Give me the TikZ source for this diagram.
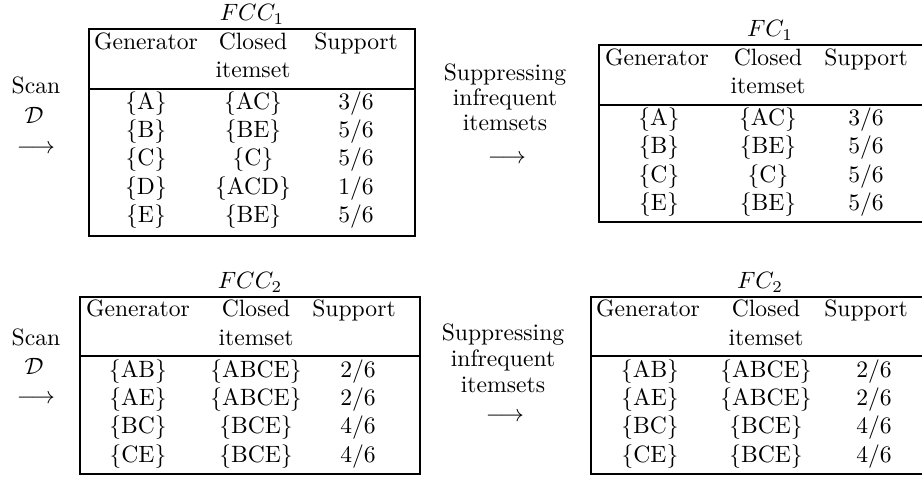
\documentclass[tikz,border=0pt]{standalone}
\usepackage{amsmath}
\begin{document}
\begin{tikzpicture}[x=0.4235pt,y=-0.4235pt,
    txt/.style={inner sep=0pt,text height=7pt,text depth=2pt},
    frame/.style={line width=0.9pt}]
  \useasboundingbox (0,0) rectangle (922,476);
  \clip (0,0) rectangle (922,476);
  % left labels
  \draw
    (36,88) node[txt] (scan1){Scan}
    (34,118) node[txt] (data1){$\mathcal{D}$}
    (36,148) node[txt] (arr1){$\longrightarrow$}
    (36,340) node[txt] (scan2){Scan}
    (34,369) node[txt] (data2){$\mathcal{D}$}
    (36,398) node[txt] (arr2){$\longrightarrow$};
  % middle labels
  \draw
    (505,75) node[txt] (supp1){Suppressing}
    (505,100) node[txt] (infr1){infrequent}
    (505,125) node[txt] (item1){itemsets}
    (507,158) node[txt] (arr3){$\longrightarrow$}
    (503,335) node[txt] (supp2){Suppressing}
    (503,361) node[txt] (infr2){infrequent}
    (503,387) node[txt] (item2){itemsets}
    (505,416) node[txt] (arr4){$\longrightarrow$};
  % FCC_1
  \draw[frame] (89,29) rectangle (415,236);
  \draw[frame] (89,89) -- (415,89);
  \draw
    (252,15) node[txt] (fcc1){$FCC_1$}
    (146,44) node[txt] (fcc1g){Generator}
    (253,44) node[txt] (fcc1c){Closed}
    (253,72) node[txt] (fcc1i){itemset}
    (356,44) node[txt] (fcc1s){Support}
    (146,104) node[txt] (fcc1a1){\{A\}}
    (253,104) node[txt] (fcc1a2){\{AC\}}
    (356,104) node[txt] (fcc1a3){3/6}
    (146,132) node[txt] (fcc1b1){\{B\}}
    (253,132) node[txt] (fcc1b2){\{BE\}}
    (356,132) node[txt] (fcc1b3){5/6}
    (146,160) node[txt] (fcc1c1){\{C\}}
    (253,160) node[txt] (fcc1c2){\{C\}}
    (356,160) node[txt] (fcc1c3){5/6}
    (146,189) node[txt] (fcc1d1){\{D\}}
    (253,189) node[txt] (fcc1d2){\{ACD\}}
    (356,189) node[txt] (fcc1d3){1/6}
    (146,217) node[txt] (fcc1e1){\{E\}}
    (253,217) node[txt] (fcc1e2){\{BE\}}
    (356,217) node[txt] (fcc1e3){5/6};
  % FC_1
  \draw[frame] (599,45) rectangle (926,222);
  \draw[frame] (599,105) -- (926,105);
  \draw
    (770,31) node[txt] (fc1){$FC_1$}
    (657,60) node[txt] (fc1g){Generator}
    (768,60) node[txt] (fc1c){Closed}
    (768,88) node[txt] (fc1i){itemset}
    (866,60) node[txt] (fc1s){Support}
    (659,120) node[txt] (fc1a1){\{A\}}
    (768,120) node[txt] (fc1a2){\{AC\}}
    (866,120) node[txt] (fc1a3){3/6}
    (659,148) node[txt] (fc1b1){\{B\}}
    (768,148) node[txt] (fc1b2){\{BE\}}
    (866,148) node[txt] (fc1b3){5/6}
    (659,177) node[txt] (fc1c1){\{C\}}
    (768,177) node[txt] (fc1c2){\{C\}}
    (866,177) node[txt] (fc1c3){5/6}
    (659,205) node[txt] (fc1e1){\{E\}}
    (768,205) node[txt] (fc1e2){\{BE\}}
    (866,205) node[txt] (fc1e3){5/6};
  % FCC_2
  \draw[frame] (80,297) rectangle (420,474);
  \draw[frame] (80,356) -- (420,356);
  \draw
    (250,283) node[txt] (fcc2){$FCC_2$}
    (138,311) node[txt] (fcc2g){Generator}
    (256,311) node[txt] (fcc2c){Closed}
    (256,340) node[txt] (fcc2i){itemset}
    (354,311) node[txt] (fcc2s){Support}
    (138,372) node[txt] (fcc2a1){\{AB\}}
    (256,372) node[txt] (fcc2a2){\{ABCE\}}
    (358,372) node[txt] (fcc2a3){2/6}
    (138,400) node[txt] (fcc2b1){\{AE\}}
    (256,400) node[txt] (fcc2b2){\{ABCE\}}
    (358,400) node[txt] (fcc2b3){2/6}
    (138,428) node[txt] (fcc2c1){\{BC\}}
    (256,428) node[txt] (fcc2c2){\{BCE\}}
    (358,428) node[txt] (fcc2c3){4/6}
    (138,457) node[txt] (fcc2d1){\{CE\}}
    (256,457) node[txt] (fcc2d2){\{BCE\}}
    (358,457) node[txt] (fcc2d3){4/6};
  % FC_2
  \draw[frame] (591,297) rectangle (926,474);
  \draw[frame] (591,356) -- (926,356);
  \draw
    (760,283) node[txt] (fc2){$FC_2$}
    (648,311) node[txt] (fc2g){Generator}
    (766,311) node[txt] (fc2c){Closed}
    (766,340) node[txt] (fc2i){itemset}
    (866,311) node[txt] (fc2s){Support}
    (650,372) node[txt] (fc2a1){\{AB\}}
    (766,372) node[txt] (fc2a2){\{ABCE\}}
    (874,372) node[txt] (fc2a3){2/6}
    (650,400) node[txt] (fc2b1){\{AE\}}
    (766,400) node[txt] (fc2b2){\{ABCE\}}
    (874,400) node[txt] (fc2b3){2/6}
    (650,428) node[txt] (fc2c1){\{BC\}}
    (766,428) node[txt] (fc2c2){\{BCE\}}
    (874,428) node[txt] (fc2c3){4/6}
    (650,457) node[txt] (fc2d1){\{CE\}}
    (766,457) node[txt] (fc2d2){\{BCE\}}
    (874,457) node[txt] (fc2d3){4/6};
\end{tikzpicture}
\end{document}
